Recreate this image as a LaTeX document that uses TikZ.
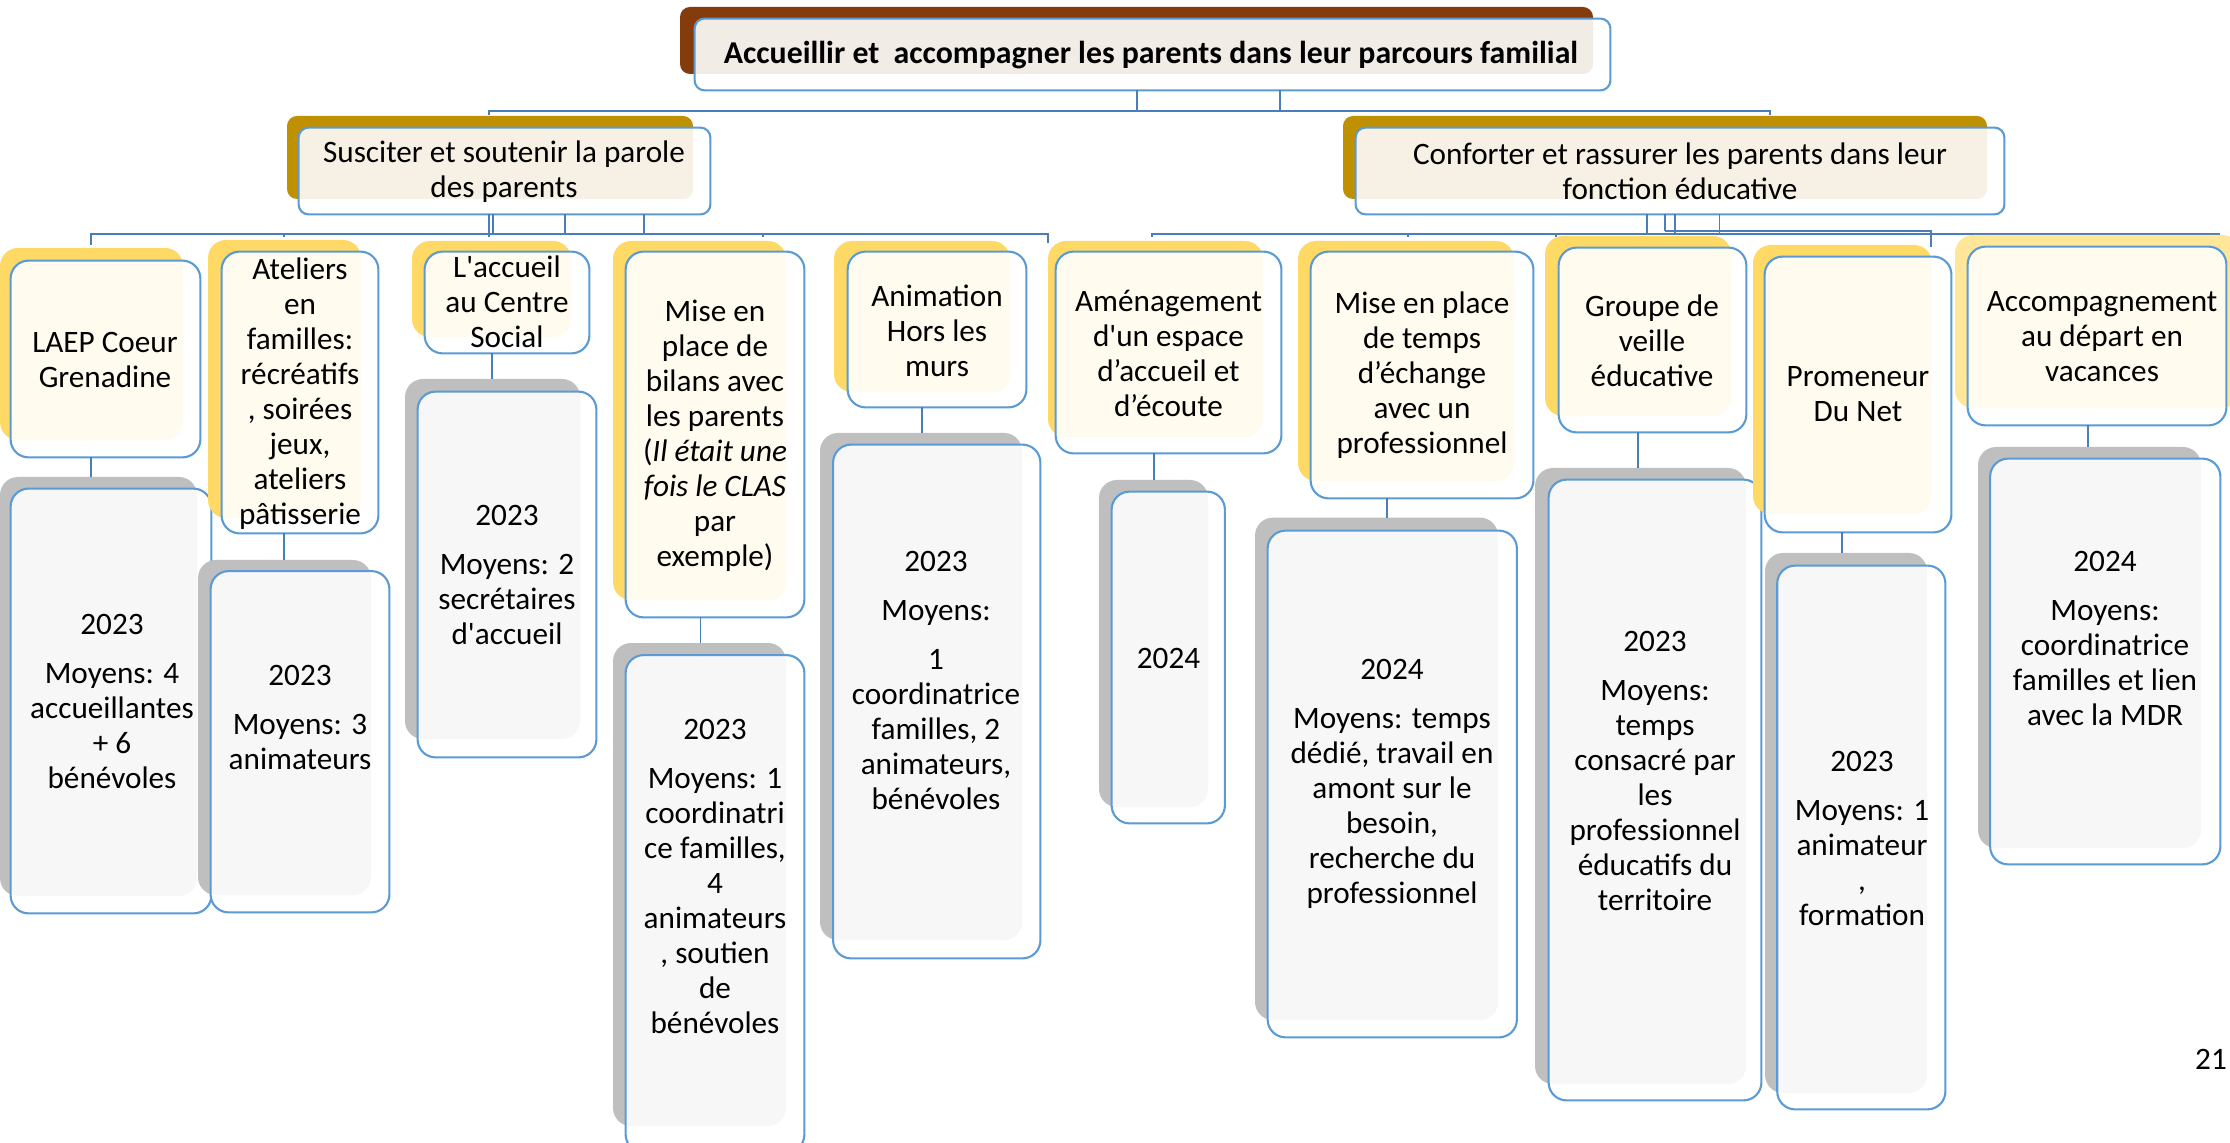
\documentclass[tikz,border=0pt]{standalone}
\usepackage{fontspec}
\setmainfont{Carlito}[Ligatures=TeXOff]
\usetikzlibrary{fit}
\definecolor{brownb}{HTML}{843C0C}
\definecolor{goldb}{HTML}{BF9000}
\definecolor{yelb}{HTML}{FFD966}
\definecolor{yelbl}{HTML}{FFE699}
\definecolor{grayb}{HTML}{BFBFBF}
\definecolor{ltone}{HTML}{F2ECE7}
\definecolor{lttwo}{HTML}{F6F1E4}
\definecolor{ltthree}{HTML}{FFFBEF}
\definecolor{ltfour}{HTML}{F7F7F7}
\definecolor{bordcol}{HTML}{5B9BD5}
\definecolor{conncol}{HTML}{4A7EBB}
\def\boxrad{9pt}
\tikzset{
  conn/.style={draw=conncol, line width=0.9pt},
  txt/.style={align=center, inner sep=0pt, font=\fontsize{15.6}{17.5}\selectfont},
  frontline/.style={draw=bordcol, line width=1.05pt},
}
% #1 name, #2 back colour, #3 light colour, #4 #5 back corners, #6 #7 front corners
\newcommand\obox[7]{%
  \fill[#2, rounded corners=\boxrad] #4 rectangle #5;
  \node[fit={#6 #7}, inner sep=0pt] (#1) {};
  \fill[white, rounded corners=\boxrad] #6 rectangle #7;
  \begin{scope}
    \clip[rounded corners=\boxrad] #6 rectangle #7;
    \fill[#3, rounded corners=\boxrad] #4 rectangle #5;
  \end{scope}
  \draw[frontline, rounded corners=\boxrad] (#1.south west) rectangle (#1.north east);
}
\begin{document}
\begin{tikzpicture}[x=0.5pt, y=-0.5pt]
\useasboundingbox (0,0) rectangle (2230,1143);
\fill[white] (0,0) rectangle (2230,1143);

% ---------- level 1
\def\boxrad{5pt}
\obox{title}{brownb}{ltone}{(680,7)}{(1593,74)}{(695,19)}{(1610,90)}
\node[txt, font=\fontsize{15.9}{17.5}\selectfont\bfseries] (ttitle) at (1151,55)
  {Accueillir et\ \ accompagner les parents dans leur parcours familial};

% ---------- level 2
\obox{s1}{goldb}{lttwo}{(287,116)}{(693,199)}{(299,128)}{(710,214)}
\node[txt] (ts1) at (504,171.5) {Susciter et soutenir la parole\\des parents};
\obox{s2}{goldb}{lttwo}{(1343,116)}{(1987,199)}{(1356,128)}{(2004,214)}
\node[txt] (ts2) at (1680,171.5) {Conforter et rassurer les parents dans leur\\fonction éducative};
\def\boxrad{9pt}

% connectors level 1 -> level 2
\coordinate (j1) at (1137,111);
\coordinate (j2) at (1280,111);
\coordinate (hL) at (489,111);
\coordinate (hR) at (1770,111);
\draw[conn] (title.south -| j1) -- (j1);
\draw[conn] (title.south -| j2) -- (j2);
\draw[conn] ([yshift=-2pt]hL) -- (hL) -- (hR) -- ([yshift=-2pt]hR);

% connectors level 2 left -> level 3
\coordinate (p1) at (489,234);
\coordinate (p2) at (493,234);
\coordinate (p3) at (565,234);
\coordinate (p4) at (644,234);
\coordinate (qL) at (91,234);
\coordinate (qR) at (1048,234);
\coordinate (qa) at (284,234);
\coordinate (qb) at (763,234);
\draw[conn] (s1.south -| p1) -- (p1);
\draw[conn] (s1.south -| p2) -- (p2);
\draw[conn] (s1.south -| p3) -- (p3);
\draw[conn] (s1.south -| p4) -- (p4);
\draw[conn] ([yshift=-5.5pt]qL) -- (qL) -- (qR) -- ([yshift=-4.5pt]qR);
\draw[conn] (qa) -- ([yshift=-1.5pt]qa);
\draw[conn] (qb) -- ([yshift=-1.5pt]qb);
\draw[conn] (p1) -- ([yshift=-1.5pt]p1);

% connectors level 2 right -> level 3
\coordinate (r1) at (1647,234);
\coordinate (r2) at (1665,231);
\coordinate (r3) at (1675,234);
\coordinate (r4) at (1719.5,234);
\coordinate (r5) at (1931,231);
\coordinate (rL) at (1152,234);
\coordinate (rR) at (2219.5,234);
\coordinate (ra) at (1408,234);
\coordinate (rb) at (1556,234);
\draw[conn] (s2.south -| r1) -- (r1);
\draw[conn] (s2.south -| r2) -- (r2);
\draw[conn] (s2.south -| r3) -- (r3);
\draw[conn] (s2.south -| r4) -- (r4);
\draw[conn] ([yshift=-1.5pt]rL) -- (rL) -- (rR) -- ([yshift=-2pt]rR);
\draw[conn] (r2) -- (r5) -- ([yshift=-8pt]r5);
\draw[conn] (ra) -- ([yshift=-1.5pt]ra);
\draw[conn] (rb) -- ([yshift=-1.5pt]rb);

% ---------- branch 1
\obox{a1}{yelb}{ltthree}{(0,248)}{(183,440)}{(11,261)}{(200,457)}
\node[txt] (ta1) at (105,359.5) {LAEP Coeur\\Grenadine};
\obox{g1}{grayb}{ltfour}{(0,477)}{(197,896)}{(11,489)}{(211,913)}
\node[txt] (tg1) at (112,701) {2023\\[7pt]Moyens: 4\\accueillantes\\+ 6\\bénévoles};
\coordinate (k1) at (91,477);
\draw[conn] (a1.south -| k1) -- (k1);

% ---------- branch 2
\obox{a2}{yelb}{ltthree}{(208,240)}{(361,518)}{(222,252)}{(378,533)}
\node[txt] (ta2) at (300,394) {Ateliers\\en\\familles:\\récréatifs\\, soirées\\jeux,\\ateliers\\pâtisserie};
\obox{g2}{grayb}{ltfour}{(198,560)}{(371,895)}{(211,571.5)}{(389,912)}
\node[txt] (tg2) at (300,717) {2023\\[7pt]Moyens: 3\\animateurs};
\coordinate (k2) at (284,560);
\draw[conn] (a2.south -| k2) -- (k2);

% ---------- branch 3
\obox{a3}{yelb}{ltthree}{(412,241)}{(571,337)}{(425,252)}{(589,353)}
\node[txt] (ta3) at (507,302) {L'accueil\\au Centre\\Social};
\obox{g3}{grayb}{ltfour}{(405,379)}{(580,739)}{(418,392)}{(596,757)}
\node[txt] (tg3) at (507,575) {2023\\[7pt]Moyens: 2\\secrétaires\\d'accueil};
\coordinate (k3) at (492,379);
\draw[conn] (a3.south -| k3) -- (k3);

% ---------- branch 4
\obox{a4}{yelb}{ltthree}{(613,241)}{(786,600)}{(626,252)}{(804,617)}
\node[txt] (ta4) at (715,435.5) {Mise en\\place de\\bilans avec\\les parents\\(\textit{Il était une}\\\textit{fois le CLAS}\\par\\exemple)};
\obox{g4}{grayb}{ltfour}{(613,643)}{(786,1126)}{(626,655.5)}{(804,1152)}
\node[txt] (tg4) at (715,876) {2023\\[7pt]Moyens: 1\\coordinatri\\ce familles,\\4\\animateurs\\, soutien\\de\\bénévoles};
\coordinate (k4) at (700.5,643);
\draw[conn] (a4.south -| k4) -- (k4);

% ---------- branch 5
\obox{a5}{yelb}{ltthree}{(834,241)}{(1010,392)}{(848,252)}{(1026,407)}
\node[txt] (ta5) at (937,330.5) {Animation\\Hors les\\murs};
\obox{g5}{grayb}{ltfour}{(820,433)}{(1022,940)}{(833.5,445)}{(1040,958)}
\node[txt] (tg5) at (936,680) {2023\\[7pt]Moyens:\\[7pt]1\\coordinatrice\\familles, 2\\animateurs,\\bénévoles};
\coordinate (k5) at (922,433);
\draw[conn] (a5.south -| k5) -- (k5);

% ---------- branch 6
\obox{a6}{yelb}{ltthree}{(1048,241)}{(1263,437)}{(1056,252)}{(1281,453)}
\node[txt] (ta6) at (1168.5,353.5) {Aménagement\\d'un espace\\d’accueil et\\d’écoute};
\obox{g6}{grayb}{ltfour}{(1099,480)}{(1208,807)}{(1112,492)}{(1224.5,823)}
\node[txt] (tg6) at (1168.5,658) {2024};
\coordinate (k6) at (1154,480);
\draw[conn] (a6.south -| k6) -- (k6);

% ---------- branch 7
\obox{a7}{yelb}{ltthree}{(1298,241)}{(1514,481)}{(1311,252)}{(1533,498)}
\node[txt] (ta7) at (1422,375.5) {Mise en place\\de temps\\d’échange\\avec un\\professionnel};
\obox{g7}{grayb}{ltfour}{(1255,517.6)}{(1498,1020)}{(1268,531)}{(1516.5,1037)}
\node[txt] (tg7) at (1392,784) {2024\\[7pt]Moyens: temps\\dédié, travail en\\amont sur le\\besoin,\\recherche du\\professionnel};
\coordinate (k7) at (1387,517.6);
\draw[conn] (a7.south -| k7) -- (k7);

% ---------- branch 8
\obox{a8}{yelb}{ltthree}{(1545,236)}{(1731,416)}{(1559,248)}{(1746,432)}
\node[txt] (ta8) at (1652,341) {Groupe de\\veille\\éducative};
\obox{g8}{grayb}{ltfour}{(1535,468)}{(1746,1084)}{(1549,480)}{(1761,1100)}
\node[txt] (tg8) at (1655,771) {2023\\[7pt]Moyens:\\temps\\consacré par\\les\\professionnel\\éducatifs du\\territoire};
\coordinate (k8) at (1637.6,468);
\draw[conn] (a8.south -| k8) -- (k8);

% ---------- branch 9
\obox{a9}{yelb}{ltthree}{(1753,245)}{(1932,514)}{(1765,257)}{(1951,532)}
\node[txt] (ta9) at (1858,394.5) {Promeneur\\Du Net};
\obox{g9}{grayb}{ltfour}{(1765,553)}{(1927,1093)}{(1777.6,566)}{(1945,1109)}
\node[txt] (tg9) at (1862,838) {2023\\[7pt]Moyens: 1\\animateur\\,\\formation};
\coordinate (k9) at (1842,553);
\draw[conn] (a9.south -| k9) -- (k9);

% ---------- branch 10
\obox{a10}{yelbl}{ltthree}{(1955,235)}{(2240,408)}{(1968,247)}{(2226,425)}
\node[txt] (ta10) at (2102,337) {Accompagnement\\au départ en\\vacances};
\obox{g10}{grayb}{ltfour}{(1978,447)}{(2201,848)}{(1990.5,459)}{(2220,864)}
\node[txt] (tg10) at (2105,638) {2024\\[7pt]Moyens:\\coordinatrice\\familles et lien\\avec la MDR};
\coordinate (k10) at (2088,447);
\draw[conn] (a10.south -| k10) -- (k10);

% page number
\node[txt] (pnum) at (2211,1059) {21};
\end{tikzpicture}
\end{document}
